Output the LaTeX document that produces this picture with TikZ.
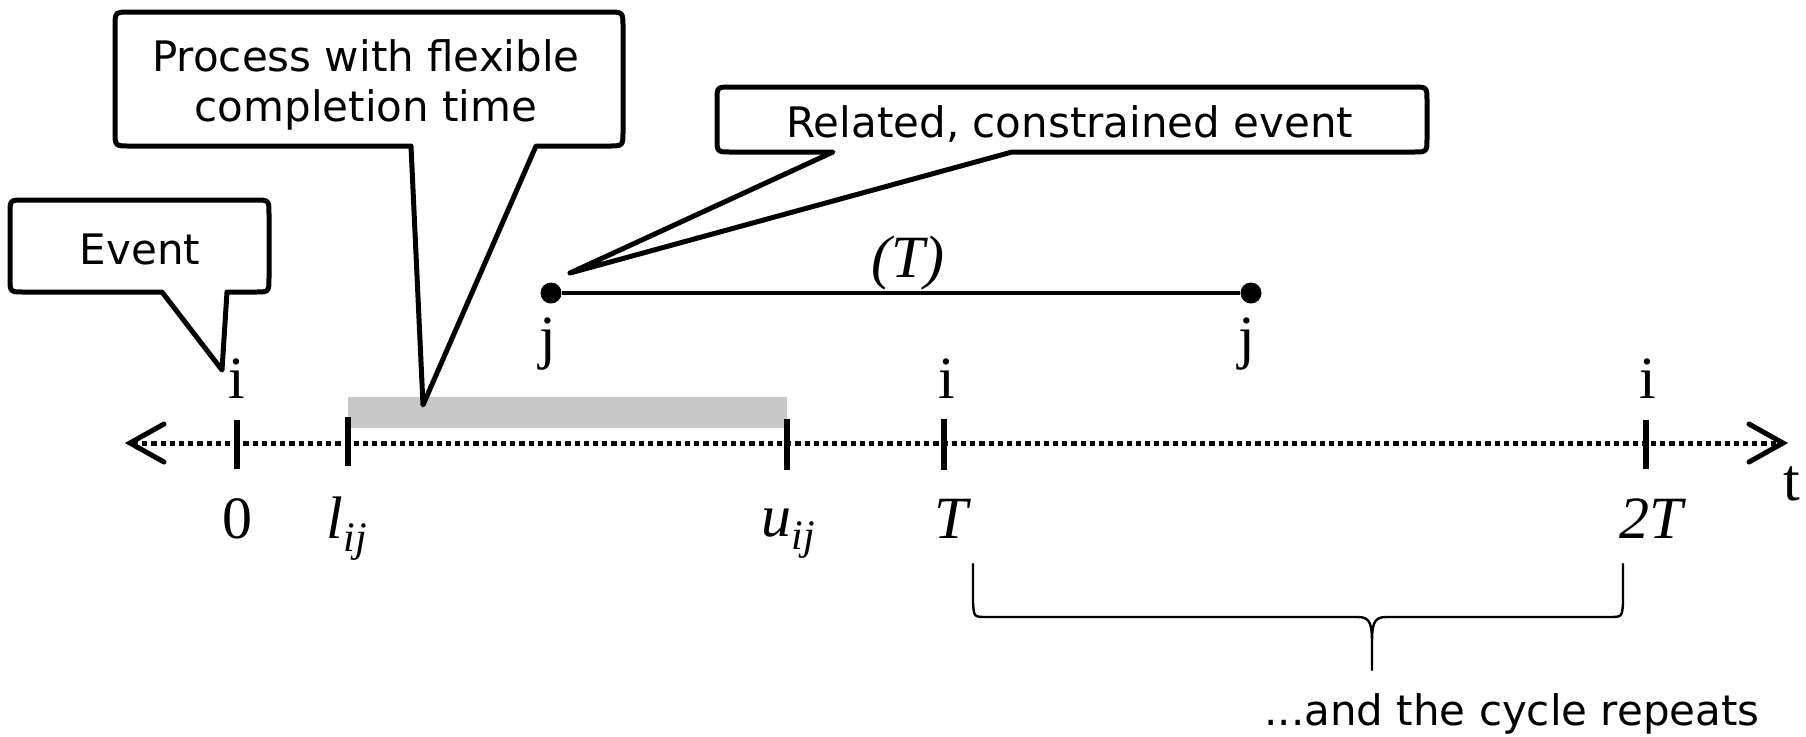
\documentclass[tikz,border=0pt]{standalone}
\usepackage{fontspec}
\setmainfont{Liberation Serif}
\newfontfamily\calloutfont{DejaVu Sans}
\definecolor{bargray}{RGB}{200,200,200}
\tikzset{
  bubble/.style={draw=black, line width=2.5pt, fill=white, line join=round},
  bubbletext/.style={font={\calloutfont\fontsize{21}{25}\selectfont}, inner sep=0pt, anchor=base},
  axlabel/.style={font={\fontsize{30}{30}\selectfont}, inner sep=0pt, anchor=base},
  ticker/.style={line width=2.75pt},
  timeaxis/.style={line width=2.5pt, dash pattern=on 2.6pt off 2pt},
  barb/.style={line width=2.5pt, line join=miter, line cap=round},
  evdot/.style={circle, fill=black, inner sep=0pt, minimum size=10.5pt},
  seg/.style={line width=1.75pt},
  brace/.style={line width=1.2pt, line join=round, line cap=round},
}
\newcommand{\subij}{\raisebox{-6.5pt}{\fontsize{21}{21}\selectfont\itshape ij}}
\begin{document}
\begin{tikzpicture}[x=0.5pt, y=-0.5pt]
\useasboundingbox (0,0) rectangle (1806,736);

% flexible completion window
\fill[bargray] (348,397) rectangle (787,428);

% time axis
\coordinate (axL) at (133,443);
\coordinate (axR) at (1782,443);
\draw[timeaxis] (axL) -- (axR);
\draw[barb] (164,424) -- (130,443) -- (164,462);
\draw[barb] (1749,424) -- (1783,443) -- (1749,462);

% ticks
\draw[ticker] (237,420) -- (237,469);
\draw[ticker, line width=3.2pt] (348,417) -- (348,466);
\draw[ticker] (787,419) -- (787,470);
\draw[ticker] (944,419) -- (944,470);
\draw[ticker] (1646,420) -- (1646,469);

% labels above the axis
\node[axlabel] (i0) at (237,398) {i};
\node[axlabel] (i1) at (947,398) {i};
\node[axlabel] (i2) at (1648,398) {i};

% labels below the axis
\node[axlabel] (l0) at (237,538) {0};
\node[axlabel] (lij) at (347,538) {{\itshape l}\subij};
\node[axlabel] (uij) at (788,536) {{\itshape u}\subij};
\node[axlabel] (lT) at (951,538) {\itshape T};
\node[axlabel] (l2T) at (1651,538) {\itshape 2T};
\node[axlabel] (lt) at (1792,500) {t};

% related event j, one period later
\node[evdot] (j1) at (551,293) {};
\node[evdot] (j2) at (1251,293) {};
\draw[seg] (j1) -- (j2);
\node[axlabel] (per) at (908,277) {\itshape (T)};
\node[axlabel] (jl1) at (548,357) {j};
\node[axlabel] (jl2) at (1247,357) {j};

% callouts
\draw[bubble] (24,200) -- (255,200) .. controls (269,200) .. (269,214)
  -- (269,278) .. controls (269,292) .. (255,292)
  -- (227,292) -- (222,370) -- (162,292)
  -- (24,292) .. controls (10,292) .. (10,278)
  -- (10,214) .. controls (10,200) .. (24,200) -- cycle;
\node[bubbletext] (ev) at (140,264) {Event};

\draw[bubble] (130,12) -- (608,12) .. controls (623,12) .. (623,27)
  -- (623,131) .. controls (623,146) .. (608,146)
  -- (536,146) -- (423,405) -- (411,146)
  -- (130,146) .. controls (115,146) .. (115,131)
  -- (115,27) .. controls (115,12) .. (130,12) -- cycle;
\node[bubbletext] (pr1) at (366,71) {Process with flexible};
\node[bubbletext] (pr2) at (366,121) {completion time};

\draw[bubble] (731,87) -- (1413,87) .. controls (1427,87) .. (1427,101)
  -- (1427,138) .. controls (1427,152) .. (1413,152)
  -- (1012,152) -- (570,273) -- (833,152)
  -- (731,152) .. controls (717,152) .. (717,138)
  -- (717,101) .. controls (717,87) .. (731,87) -- cycle;
\node[bubbletext] (rel) at (1070,137) {Related, constrained event};

% period brace
\draw[brace] (973,564) -- (973,603) .. controls (974,617) .. (987,617)
  -- (1358,617) .. controls (1371,617) and (1372,625) .. (1372,645)
  -- (1372,670) -- (1372,645) .. controls (1372,625) and (1373,617) .. (1386,617)
  -- (1609,617) .. controls (1622,617) .. (1623,603) -- (1623,564);
\node[bubbletext] (rep) at (1512,725) {...and the cycle repeats};
\end{tikzpicture}
\end{document}
